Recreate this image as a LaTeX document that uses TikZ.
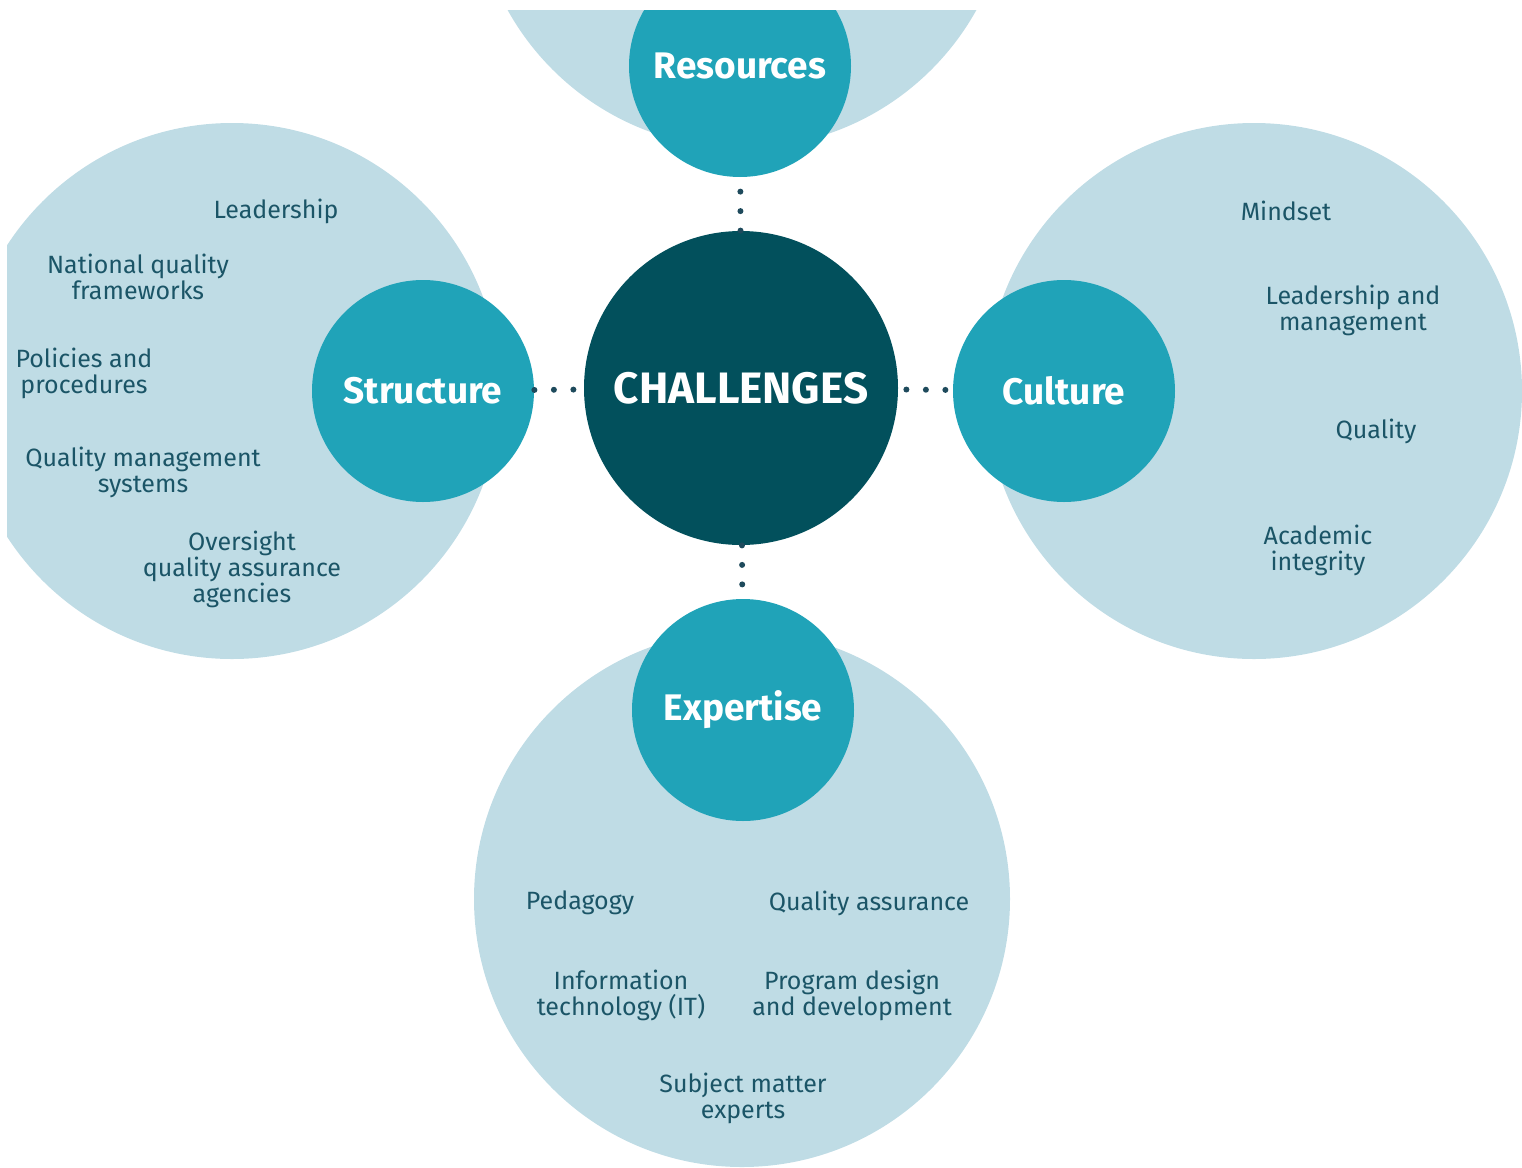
\documentclass[tikz,border=0pt]{standalone}
\usepackage{fontspec}
\setmainfont{Fira Sans}
\definecolor{paleblue}{HTML}{BFDCE5}
\definecolor{topicteal}{HTML}{20A3B8}
\definecolor{coreteal}{HTML}{02505C}
\definecolor{itemtext}{HTML}{1B5567}
\definecolor{dotblue}{HTML}{1E4A5C}
\begin{document}
\begin{tikzpicture}[x=0.5pt,y=-0.5pt,
  bigcirc/.style={circle,fill=paleblue,minimum size=268pt,inner sep=0pt},
  topic/.style={circle,fill=topicteal,minimum size=111pt,inner sep=0pt,text=white,font=\fontsize{18.5}{22}\selectfont\bfseries},
  core/.style={circle,fill=coreteal,minimum size=157pt,inner sep=0pt,text=white,font=\fontsize{22}{26}\selectfont\bfseries},
  item/.style={text=itemtext,align=center,inner sep=0pt,yshift=-1pt,font=\fontsize{12.5}{13}\selectfont},
  dotline/.style={draw=dotblue,line width=3pt,line cap=round,dash pattern=on 0pt off 9.75pt}]
\useasboundingbox (0,0) rectangle (1522,1168);
\begin{scope}
\clip (7,10) rectangle (1522,1168);
% outer discs
\node[bigcirc] (resbg) at (742,-120) {};
\node[bigcirc] (strbg) at (232,391) {};
\node[bigcirc] (cultbg) at (1254,391) {};
\node[bigcirc] (expbg) at (742,899) {};
% topics and centre
\node[topic] (res) at (740,66) {Resources};
\node[topic] (str) at (423,391) {Structure};
\node[topic] (cult) at (1064,391) {Culture};
\node[topic] (exp) at (743,710) {Expertise};
\node[core] (chal) at (741,388) {CHALLENGES};
\end{scope}
% dotted links
\draw[dotline] (chal) -- (res);
\draw[dotline] (str) -- (chal);
\draw[dotline,dash phase=5.75pt] (chal) -- (cult);
\draw[dotline] (chal) -- (exp);
% structure items
\node[item] (lead) at (276,209) {Leadership};
\node[item] (natq) at (138,275) {National quality\\frameworks};
\node[item] (pol) at (84,371) {Policies and\\procedures};
\node[item] (qms) at (143,470) {Quality management\\systems};
\node[item] (over) at (242,567) {Oversight\\quality assurance\\agencies};
% culture items
\node[item] (mind) at (1286,209) {Mindset};
\node[item] (leadm) at (1353,308) {Leadership and\\management};
\node[item] (qual) at (1376,429) {Quality};
\node[item] (acad) at (1318,548) {Academic\\integrity};
% expertise items
\node[item] (ped) at (580,901) {Pedagogy};
\node[item] (qa) at (869,901) {Quality assurance};
\node[item] (it) at (621,993) {Information\\technology (IT)};
\node[item] (prog) at (852,993) {Program design\\and development};
\node[item] (sme) at (743,1096) {Subject matter\\experts};
\end{tikzpicture}
\end{document}
